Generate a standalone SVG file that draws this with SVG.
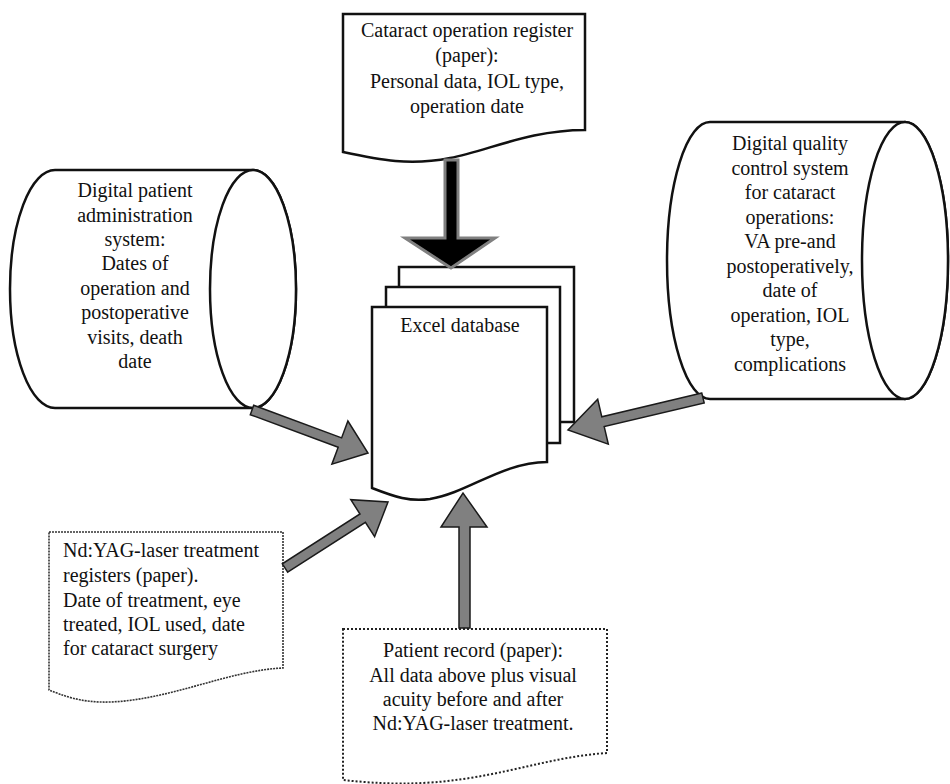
<svg xmlns="http://www.w3.org/2000/svg" width="950" height="784" viewBox="0 0 950 784">
<style>
text{font-family:"Liberation Serif","Times New Roman",serif;font-size:20px;fill:#111}
.c{text-anchor:middle}
.sh{fill:#fff;stroke:#111;stroke-width:2.5}
.ga{fill:#808080;stroke:#1a1a1a;stroke-width:1.5;stroke-linejoin:miter}
</style>
<rect width="950" height="784" fill="#fff"/>
<g id="register">
<path class="sh" d="M343,14 H585 V130 C530,130 490,150 450,158 C410,166 380,160 343,152 Z"/>
<text class="c"><tspan x="467" y="37">Cataract operation register</tspan><tspan x="467" y="62">(paper):</tspan><tspan x="467" y="88">Personal data, IOL type,</tspan><tspan x="467" y="113">operation date</tspan></text>
</g>
<g id="patient-admin">
<path class="sh" d="M55,170 H253 A43,119 0 0 1 253,408 H55 A45,119 0 0 1 55,170 Z"/>
<ellipse class="sh" cx="253" cy="289" rx="43" ry="119"/>
<text class="c"><tspan x="135" y="197">Digital patient</tspan><tspan x="135" y="222">administration</tspan><tspan x="135" y="246">system:</tspan><tspan x="135" y="270">Dates of</tspan><tspan x="135" y="295">operation and</tspan><tspan x="135" y="319">postoperative</tspan><tspan x="135" y="344">visits, death</tspan><tspan x="135" y="368">date</tspan></text>
</g>
<g id="quality-control">
<path class="sh" d="M710,122 H905 A43,138.5 0 0 1 905,399 H710 A43,138.5 0 0 1 710,122 Z"/>
<ellipse class="sh" cx="905" cy="260.5" rx="43" ry="138.5"/>
<text class="c"><tspan x="790" y="150">Digital quality</tspan><tspan x="790" y="174.5">control system</tspan><tspan x="790" y="199">for cataract</tspan><tspan x="790" y="223.5">operations:</tspan><tspan x="790" y="248">VA pre-and</tspan><tspan x="790" y="272.5">postoperatively,</tspan><tspan x="790" y="297">date of</tspan><tspan x="790" y="321.5">operation, IOL</tspan><tspan x="790" y="346">type,</tspan><tspan x="790" y="370.5">complications</tspan></text>
</g>
<g id="excel-database">
<rect class="sh" x="399" y="267" width="175" height="155"/>
<rect class="sh" x="386" y="287" width="174" height="156"/>
<path class="sh" d="M372,307 H547 V462 C500,463 470,492 430,499 C410,502 395,497 372,488 Z"/>
<text class="c" x="460" y="332">Excel database</text>
</g>
<g id="yag-registers">
<path d="M49,532 H283 V668 C230,670 170,700 110,702 C80,703 62,695 49,690 Z" fill="#fff" stroke="#333" stroke-width="1.6" stroke-dasharray="2 1"/>
<text><tspan x="63" y="557">Nd:YAG-laser treatment</tspan><tspan x="63" y="582">registers (paper).</tspan><tspan x="63" y="607">Date of treatment, eye</tspan><tspan x="63" y="631">treated, IOL used, date</tspan><tspan x="63" y="655">for cataract surgery</tspan></text>
</g>
<g id="patient-record">
<path d="M343,629 H607 V753 C560,756 520,770 470,778 C420,786 380,784 343,780 Z" fill="#fff" stroke="#222" stroke-width="2" stroke-dasharray="2 2"/>
<text class="c"><tspan x="473" y="657">Patient record (paper):</tspan><tspan x="473" y="682">All data above plus visual</tspan><tspan x="473" y="706">acuity before and after</tspan><tspan x="473" y="730">Nd:YAG-laser treatment.</tspan></text>
</g>
<g id="connectors">
<polygon points="445,160 458,160 458,238 495,238 451,268 405,238 445,238" fill="#000" stroke="#808080" stroke-width="3"/>
<polygon class="ga" points="250.3,414.7 338.2,447.3 331.9,464.2 368,453 347.9,421 341.6,437.9 253.7,405.3"/>
<polygon class="ga" points="701.8,393.1 601.8,416.8 597.7,399.3 568,430 608.3,444.1 604.2,426.6 704.2,402.9"/>
<polygon class="ga" points="287.7,572.2 365.4,522.4 374.6,536.7 388,502 350.8,499.7 360,514 282.3,563.8"/>
<polygon class="ga" points="459,628 459,527 441,527 463,493 487,527 470,527 470,628"/>
</g>
</svg>
